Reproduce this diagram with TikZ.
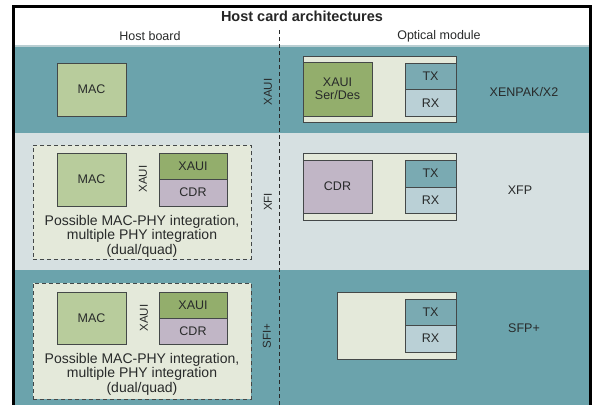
\documentclass[tikz,border=0pt]{standalone}
\usepackage{fontspec}
\setmainfont{Liberation Sans}
\definecolor{teal1}{RGB}{107,163,172}
\definecolor{rowgray}{RGB}{214,224,225}
\definecolor{cream}{RGB}{228,233,218}
\definecolor{macfill}{RGB}{184,204,156}
\definecolor{xauifill}{RGB}{147,174,108}
\definecolor{cdrfill}{RGB}{193,182,198}
\definecolor{txfill}{RGB}{122,170,178}
\definecolor{rxfill}{RGB}{186,208,214}
\definecolor{edge}{RGB}{68,72,72}
\definecolor{txt}{RGB}{40,42,42}
\definecolor{sepline}{RGB}{185,206,210}
\tikzset{
  blk/.style={draw=edge, line width=1pt, inner sep=0pt, text=txt, font=\fontsize{12.5}{13.5}\selectfont},
  modbox/.style={blk, fill=cream},
  grpbox/.style={draw=edge, line width=1pt, dash pattern=on 4pt off 3pt, fill=cream, inner sep=0pt},
  lbl/.style={text=txt, inner sep=0pt, font=\fontsize{12.5}{13.5}\selectfont},
  rotlbl/.style={text=txt, inner sep=0pt, rotate=90, font=\fontsize{11.5}{12}\selectfont},
  note/.style={text=txt, inner sep=0pt, align=center, font=\fontsize{14}{14}\selectfont}
}
\begin{document}
\begin{tikzpicture}[x=1pt, y=-1pt]
\useasboundingbox (0,0) rectangle (592,405);
\fill[white] (0,0) rectangle (592,405);
% outer frame
\fill[black] (12,5) rectangle (592,405);
\fill[white] (15,8) rectangle (589,45);
% row bands
\fill[sepline] (15,45) rectangle (589,46.5);
\fill[teal1] (15,46.5) rectangle (589,133);
\fill[rowgray] (15,133) rectangle (589,270);
\fill[teal1] (15,270) rectangle (589,405);

% headings
\node[inner sep=0pt, text=black!85, font=\bfseries\fontsize{14.5}{16}\selectfont] (title) at (302,16) {Host card architectures};
\node[lbl] (hhost) at (150,36) {Host board};
\node[lbl] (hopt) at (439,36) {Optical module};
\coordinate (divtop) at (279,30);
\coordinate (divbot) at (279,405);
\draw[txt, line width=0.9pt, dash pattern=on 4pt off 3pt] (divtop) -- (divbot);

% ---- row 1: XENPAK/X2
\node[blk, fill=macfill, minimum width=69pt, minimum height=53pt] (mac1) at (91.5,89.5) {MAC};
\node[rotlbl] (if1) at (268,92) {XAUI};
\node[modbox, minimum width=153pt, minimum height=66pt] (mod1) at (379.5,89) {};
\node[blk, fill=xauifill, align=center, minimum width=69pt, minimum height=54pt] (serdes1) at (337.5,89) {XAUI\\Ser/Des};
\node[blk, fill=txfill, minimum width=51pt, minimum height=26.5pt] (tx1) at (430.5,76.25) {TX};
\node[blk, fill=rxfill, minimum width=51pt, minimum height=26.5pt] (rx1) at (430.5,102.75) {RX};
\node[lbl] (name1) at (524,92) {XENPAK/X2};

% ---- row 2: XFP
\node[grpbox, minimum width=218pt, minimum height=114pt] (grp2) at (142,202) {};
\node[blk, fill=macfill, minimum width=69pt, minimum height=53pt] (mac2) at (91.5,179.5) {MAC};
\node[rotlbl] (ifa2) at (143,179) {XAUI};
\node[blk, fill=xauifill, minimum width=68pt, minimum height=26pt] (xaui2) at (193,166) {XAUI};
\node[blk, fill=cdrfill, minimum width=68pt, minimum height=27pt] (cdrh2) at (193,192.5) {CDR};
\node[note] (note2) at (142,236) {Possible MAC-PHY integration,\\[0.5pt]multiple PHY integration\\[0.5pt](dual/quad)};
\node[rotlbl] (if2) at (268,202) {XFI};
\node[modbox, minimum width=153pt, minimum height=67pt] (mod2) at (379.5,186.5) {};
\node[blk, fill=cdrfill, minimum width=69pt, minimum height=53pt] (cdr2) at (337.5,186.5) {CDR};
\node[blk, fill=txfill, minimum width=51pt, minimum height=27pt] (tx2) at (430.5,173.5) {TX};
\node[blk, fill=rxfill, minimum width=51pt, minimum height=26pt] (rx2) at (430.5,200) {RX};
\node[lbl] (name2) at (520,190) {XFP};

% ---- row 3: SFP+
\node[grpbox, minimum width=218pt, minimum height=116pt] (grp3) at (142,341) {};
\node[blk, fill=macfill, minimum width=69pt, minimum height=52pt] (mac3) at (91.5,318) {MAC};
\node[rotlbl] (ifa3) at (144,318) {XAUI};
\node[blk, fill=xauifill, minimum width=68pt, minimum height=26pt] (xaui3) at (193,305) {XAUI};
\node[blk, fill=cdrfill, minimum width=68pt, minimum height=26pt] (cdrh3) at (193,331) {CDR};
\node[note] (note3) at (142,374) {Possible MAC-PHY integration,\\[0.5pt]multiple PHY integration\\[0.5pt](dual/quad)};
\node[rotlbl] (if3) at (267,336) {SFI+};
\node[modbox, minimum width=119pt, minimum height=67pt] (mod3) at (396.5,325.5) {};
\node[blk, fill=txfill, minimum width=51pt, minimum height=26pt] (tx3) at (430.5,312) {TX};
\node[blk, fill=rxfill, minimum width=51pt, minimum height=27pt] (rx3) at (430.5,338.5) {RX};
\node[lbl] (name3) at (524,328) {SFP+};
\end{tikzpicture}
\end{document}
